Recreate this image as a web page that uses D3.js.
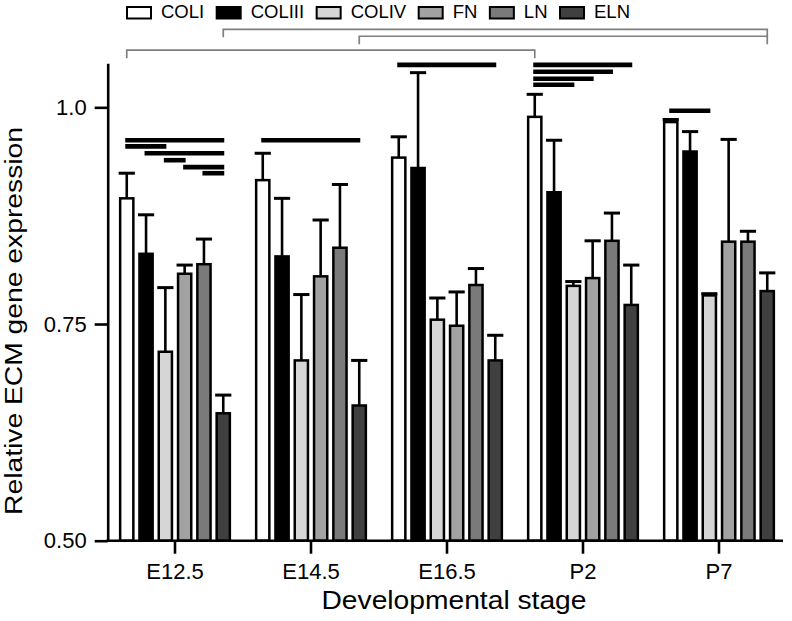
<!DOCTYPE html>
<html>
<head>
<meta charset="utf-8">
<script src="https://cdn.jsdelivr.net/npm/d3@7"></script>
<style>
  html, body { margin: 0; padding: 0; background: #fff; }
  svg { display: block; }
  text { font-family: "Liberation Sans", Arial, Helvetica, sans-serif; fill: #000; }
</style>
</head>
<body>
<svg id="chart" width="792" height="621"></svg>
<script>
// ---------- data ----------
const stages = ["E12.5", "E14.5", "E16.5", "P2", "P7"];
const genes = ["COLI", "COLIII", "COLIV", "FN", "LN", "ELN"];

const meanCOLI   = [0.895, 0.916, 0.942, 0.989, 0.983];
const meanCOLIII = [0.831, 0.828, 0.930, 0.902, 0.949];
const meanCOLIV  = [0.718, 0.708, 0.755, 0.794, 0.783];
const meanFN     = [0.808, 0.805, 0.748, 0.803, 0.845];
const meanLN     = [0.819, 0.838, 0.795, 0.846, 0.845];
const meanELN    = [0.647, 0.656, 0.708, 0.772, 0.788];

const sdCOLI   = [0.029, 0.031, 0.024, 0.026, 0.003];
const sdCOLIII = [0.045, 0.067, 0.110, 0.060, 0.023];
const sdCOLIV  = [0.074, 0.076, 0.025, 0.005, 0.002];
const sdFN     = [0.010, 0.065, 0.039, 0.043, 0.118];
const sdLN     = [0.029, 0.073, 0.019, 0.032, 0.012];
const sdELN    = [0.021, 0.052, 0.029, 0.046, 0.021];

const yTicks = [0.50, 0.75, 1.0];
const yTickLabels = ["0.50", "0.75", "1.0"];

// significance bars within a stage (from gene -> to gene at a level)
const sigStage = ["E12.5","E12.5","E12.5","E12.5","E12.5","E12.5","E14.5","E16.5","P2","P2","P2","P2","P7"];
const sigFrom  = ["COLI","COLI","COLIII","COLIV","FN","LN","COLI","COLI","COLI","COLI","COLI","COLI","COLI"];
const sigTo    = ["ELN","COLIV","ELN","FN","ELN","ELN","ELN","ELN","ELN","LN","FN","COLIV","COLIV"];
const sigLevel = [0.962,0.955,0.947,0.939,0.931,0.924,0.962,1.049,1.049,1.041,1.033,1.026,0.996];

// brackets between stages
const brkFromStage = ["E12.5", "E14.5", "E12.5"];
const brkFromGene  = ["ELN", "ELN", "COLI"];
const brkToStage   = ["P7", "P7", "P2"];
const brkToGene    = ["ELN", "ELN", "COLI"];
const brkLevel     = [1.090, 1.082, 1.066];

const means = [meanCOLI, meanCOLIII, meanCOLIV, meanFN, meanLN, meanELN];
const sds   = [sdCOLI, sdCOLIII, sdCOLIV, sdFN, sdLN, sdELN];

// ---------- styles ----------
const fills = ["#ffffff", "#000000", "#d6d6d6", "#a2a2a2", "#7a7a7a", "#404040"];

// ---------- layout ----------
const svg = d3.select("#chart");
const plotLeft = 107.7, plotBottom = 540.7, plotTop = 63.3;

const x0 = d3.scaleBand().domain(stages).range([107, 787]).paddingInner(0).paddingOuter(0);
const x1 = d3.scaleBand().domain(genes).range([-54.85, 54.85]).paddingInner(0.316).paddingOuter(0);
const y  = d3.scaleLinear().domain([0.5, 1.0508]).range([plotBottom, plotTop]);

const cx = s => x0(s) + x0.bandwidth() / 2;
const gx = (s, g) => cx(s) + x1(g) + x1.bandwidth() / 2;

const rows = [];
genes.forEach((g, gi) => stages.forEach((s, si) => {
  rows.push({ stage: s, gene: g, gi: gi, v: means[gi][si], sd: sds[gi][si] });
}));

// error bars (behind bars)
const eb = svg.append("g").attr("stroke", "#000").attr("fill", "none");
eb.selectAll("line.v").data(rows).join("line").attr("class", "v")
  .attr("x1", d => gx(d.stage, d.gene)).attr("x2", d => gx(d.stage, d.gene))
  .attr("y1", d => y(d.v)).attr("y2", d => y(d.v + d.sd))
  .attr("stroke-width", 2.6);
eb.selectAll("line.c").data(rows).join("line").attr("class", "c")
  .attr("x1", d => cx(d.stage) + x1(d.gene)).attr("x2", d => cx(d.stage) + x1(d.gene) + x1.bandwidth())
  .attr("y1", d => y(d.v + d.sd)).attr("y2", d => y(d.v + d.sd))
  .attr("stroke-width", 3).attr("stroke-linecap", "square");

// bars
svg.append("g").selectAll("rect").data(rows).join("rect")
  .attr("x", d => cx(d.stage) + x1(d.gene))
  .attr("width", x1.bandwidth())
  .attr("y", d => y(d.v))
  .attr("height", d => y(0.5) - y(d.v))
  .attr("fill", d => fills[d.gi])
  .attr("stroke", "#000").attr("stroke-width", 2.5);

// significance bars
const sig = sigStage.map((s, i) => ({ s: s, a: sigFrom[i], b: sigTo[i], lv: sigLevel[i] }));
svg.append("g").selectAll("line").data(sig).join("line")
  .attr("x1", d => gx(d.s, d.a) - 1.5).attr("x2", d => gx(d.s, d.b) + 1)
  .attr("y1", d => y(d.lv)).attr("y2", d => y(d.lv))
  .attr("stroke", "#000").attr("stroke-width", 4.6);

// brackets
const brk = brkFromStage.map((s, i) => ({
  xa: gx(s, brkFromGene[i]), xb: gx(brkToStage[i], brkToGene[i]), lv: brkLevel[i]
}));
svg.append("g").selectAll("path").data(brk).join("path")
  .attr("d", d => `M${d.xa},${y(d.lv) + 8}V${y(d.lv)}H${d.xb}V${y(d.lv) + 8}`)
  .attr("fill", "none").attr("stroke", "#7f7f7f").attr("stroke-width", 1.7);

// axes
const yAxis = svg.append("g").attr("transform", `translate(${plotLeft},0)`)
  .call(d3.axisLeft(y).tickValues(yTicks).tickFormat((d, i) => yTickLabels[i])
    .tickSize(13).tickPadding(8).tickSizeOuter(0));
yAxis.selectAll("path, line").attr("stroke", "#000").attr("stroke-width", 2.6);
yAxis.selectAll("text").attr("font-size", 22).attr("font-family", null);

const xAxis = svg.append("g").attr("transform", `translate(0,${plotBottom})`)
  .call(d3.axisBottom(x0).tickSize(13).tickPadding(10).tickSizeOuter(0));
xAxis.select(".domain").remove();
xAxis.selectAll("line").attr("stroke", "#000").attr("stroke-width", 2.6);
xAxis.selectAll("text").attr("font-size", 22).attr("font-family", null);
svg.append("line").attr("x1", plotLeft - 1.3).attr("x2", x0.range()[1] - 4)
  .attr("y1", plotBottom).attr("y2", plotBottom).attr("stroke", "#000").attr("stroke-width", 2.6);

// axis titles
svg.append("text").attr("x", 454).attr("y", 609).attr("text-anchor", "middle")
  .attr("font-size", 25.5).attr("textLength", 265).attr("lengthAdjust", "spacingAndGlyphs")
  .text("Developmental stage");
svg.append("text").attr("transform", "translate(21.7,321) rotate(-90)").attr("text-anchor", "middle")
  .attr("font-size", 23).attr("textLength", 388).attr("lengthAdjust", "spacingAndGlyphs")
  .text("Relative ECM gene expression");

// legend
const leg = svg.append("g");
let lx = 127;
genes.forEach((g, i) => {
  leg.append("rect").attr("x", lx).attr("y", 7).attr("width", 24).attr("height", 11.5)
    .attr("fill", fills[i]).attr("stroke", "#000").attr("stroke-width", 2);
  const t = leg.append("text").attr("x", lx + 34).attr("y", 18).attr("font-size", 18.5).text(g);
  lx = lx + 34 + t.node().getComputedTextLength() + 12.5;
});
</script>
</body>
</html>
